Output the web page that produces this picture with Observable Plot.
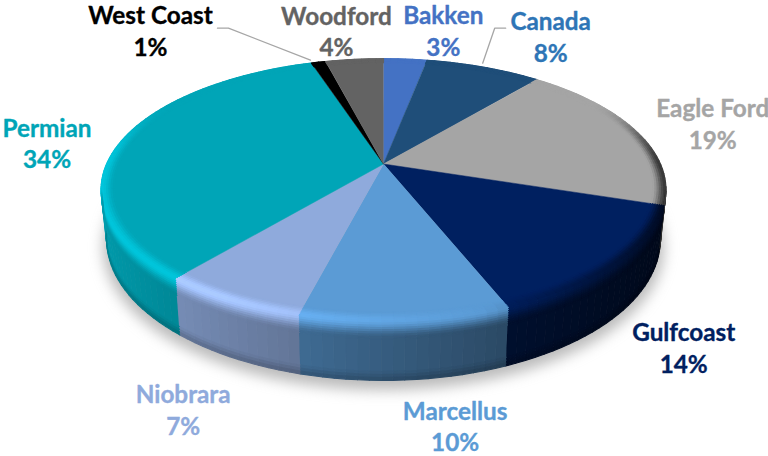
<!DOCTYPE html>
<html>
<head>
<meta charset="utf-8">
<script src="https://cdn.jsdelivr.net/npm/d3@7"></script>
<script src="https://cdn.jsdelivr.net/npm/@observablehq/plot@0.6"></script>
<style>
  html, body { margin: 0; padding: 0; background: #fff; }
  svg { display: block; }
</style>
</head>
<body>
<div id="chart"></div>
<script>
// Share of production by basin, clockwise from twelve o'clock.
const basins = ["Bakken", "Canada", "Eagle Ford", "Gulfcoast", "Marcellus", "Niobrara", "Permian", "West Coast", "Woodford"];
const shares = [3, 8, 19, 14, 10, 7, 34, 1, 4];
const faceColors = ["#4472C4", "#1F4E79", "#A5A5A5", "#002060", "#5B9BD5", "#8FAADC", "#00A5B7", "#000000", "#636363"];
const labelColors = ["#4472C4", "#2E75B6", "#A5A5A5", "#002060", "#5B9BD5", "#8FAADC", "#00A5B7", "#000000", "#636363"];

// Label placement, as offsets from the rim point at the middle of each slice.
const labelDx = [38, 67, 77, 67, 50, -48, -74, -168, -18];
const labelDy = [-29, -31, -8, 83, 105, 109, 1, -32, -29];

// Leader lines for the two labels that sit away from their slices.
const leaders = [
  {basin: "West Coast", offsets: [[-8, -2], [-90, -34], [-101, -34]]},
  {basin: "Canada", offsets: [[-1, -4], [11, -39], [22, -39]]}
];

// Tilted disc: a perspective view of a unit circle, extruded downward.
const disc = {cx: 383, cy: 163.5, a: 277, b: 126, k: 0.196, depth: 48, taper: 0.02};
const rad = d => d * Math.PI / 180;

function project(deg, radius = 1, height = 0) {
  const X = radius * Math.sin(rad(deg));
  const Y = radius * Math.cos(rad(deg));
  const w = 1 + disc.k * Y;
  return {
    x: disc.cx + disc.a * X / w * (1 - disc.taper * height),
    y: disc.cy - disc.b * Y / w + disc.depth * height / w
  };
}

const total = d3.sum(shares);
const slices = [];
let running = 0;
basins.forEach((basin, i) => {
  const start = running / total * 360;
  running += shares[i];
  const end = running / total * 360;
  slices.push({basin, share: shares[i], start, end, mid: (start + end) / 2, i});
});

function arcSteps(a, b, step = 2) {
  const n = Math.max(1, Math.ceil((b - a) / step));
  return d3.range(n + 1).map(j => a + (b - a) * j / n);
}

const clamp = (v, lo = 0, hi = 1) => Math.max(lo, Math.min(hi, v));
const lerp = (a, b, t) => a + (b - a) * t;
const smooth = t => t * t * (3 - 2 * t);

// Brightness of the rounded edge. t runs from -1 (inside the face) through
// 0 (rim) to 1 (bottom of the wall).
function brightness(deg, t) {
  const X = Math.sin(rad(deg));
  const Y = Math.cos(rad(deg));
  const wall = 0.6 - 0.35 * X;
  const peak = X < 0.3 ? 1 + 0.2 * clamp((0.3 - X) / 0.8) : 1 - 0.95 * (X - 0.3);
  let f;
  if (t < 0) f = lerp(1, peak, smooth(t + 1));
  else if (t < 0.3) f = lerp(peak, wall, smooth(t / 0.3));
  else if (t < 0.85) f = wall;
  else f = wall * lerp(1, 0.8, (t - 0.85) / 0.15);
  const reach = smooth(clamp((0.55 - Y) / 0.55));
  return 1 + (f - 1) * reach;
}

function shade(color, f) {
  const c = d3.rgb(color);
  return d3.rgb(c.r * f, c.g * f, c.b * f).formatHex();
}

// Flat top of each slice.
const faces = slices.flatMap(s => {
  const rim = arcSteps(s.start, s.end).map(d => project(d));
  return [{x: disc.cx, y: disc.cy}, ...rim].map(p => ({...p, id: s.basin, color: faceColors[s.i]}));
});

// Small facets for the bevel and the visible front wall.
const bevelBands = d3.range(0, 6).map(j => [-1 + j / 6, -1 + (j + 1) / 6]);
const wallBands = [...d3.range(0, 8).map(j => [j * 0.3 / 8, (j + 1) * 0.3 / 8]), [0.3, 0.85], [0.85, 0.9], [0.9, 0.95], [0.95, 1]];
const wallSpan = [100, 260];
const facets = [];
function addFacet(s, a0, a1, t0, t1) {
  const at = (deg, t) => t < 0 ? project(deg, 1 + t * 0.045, 0) : project(deg, 1, t);
  const color = shade(faceColors[s.i], brightness((a0 + a1) / 2, (t0 + t1) / 2));
  const id = `${s.basin}-${a0}-${t0}`;
  [at(a0, t0), at(a1, t0), at(a1, t1), at(a0, t1)].forEach(p => facets.push({...p, id, color}));
}
slices.forEach(s => {
  const steps = arcSteps(s.start, s.end);
  d3.pairs(steps).forEach(([a0, a1]) => bevelBands.forEach(([t0, t1]) => addFacet(s, a0, a1, t0, t1)));
  const lo = Math.max(s.start, wallSpan[0]);
  const hi = Math.min(s.end, wallSpan[1]);
  if (hi > lo) {
    d3.pairs(arcSteps(lo, hi)).forEach(([a0, a1]) => wallBands.forEach(([t0, t1]) => addFacet(s, a0, a1, t0, t1)));
  }
});

// Soft shadow under the disc.
const shadow = arcSteps(0, 360, 3).map(d => {
  const p = project(d, 1.012, 1);
  return {x: p.x, y: p.y + 7};
});

const labels = slices.map(s => {
  const p = project(s.mid);
  return {...p, text: `${s.basin}\n${s.share}%`, i: s.i};
});

const leaderLines = leaders.flatMap(l => {
  const s = slices.find(d => d.basin === l.basin);
  const p = project(s.mid);
  return l.offsets.map(([ox, oy]) => ({x: p.x + ox, y: p.y + oy, id: l.basin}));
});

const plot = Plot.plot({
  width: 768,
  height: 456,
  margin: 0,
  x: {domain: [0, 768], range: [0, 768], axis: null},
  y: {domain: [0, 456], range: [0, 456], axis: null},
  color: {type: "identity"},
  style: {background: "#fff"},
  marks: [
    Plot.line(shadow, {x: "x", y: "y", fill: "#8f8f8f", stroke: "none", fillOpacity: 0.62, imageFilter: "blur(7px)"}),
    Plot.line(faces, {x: "x", y: "y", z: "id", fill: "color", stroke: "color", strokeWidth: 0.5, strokeLinejoin: "round"}),
    Plot.line(facets, {x: "x", y: "y", z: "id", fill: "color", stroke: "color", strokeWidth: 1.1, strokeLinejoin: "round"}),
    Plot.line(leaderLines, {x: "x", y: "y", z: "id", stroke: "#a6a6a6", strokeWidth: 1.3}),
    ...labels.map(l => Plot.text([l], {
      x: "x",
      y: "y",
      text: "text",
      dx: labelDx[l.i],
      dy: labelDy[l.i],
      fill: labelColors[l.i],
      stroke: labelColors[l.i],
      strokeWidth: 0.35,
      fontFamily: "Lato",
      fontWeight: 700,
      fontSize: 24.3,
      lineHeight: 1.31,
      textAnchor: "middle",
      lineAnchor: "middle"
    }))
  ]
});
document.getElementById("chart").appendChild(plot);
</script>
</body>
</html>
